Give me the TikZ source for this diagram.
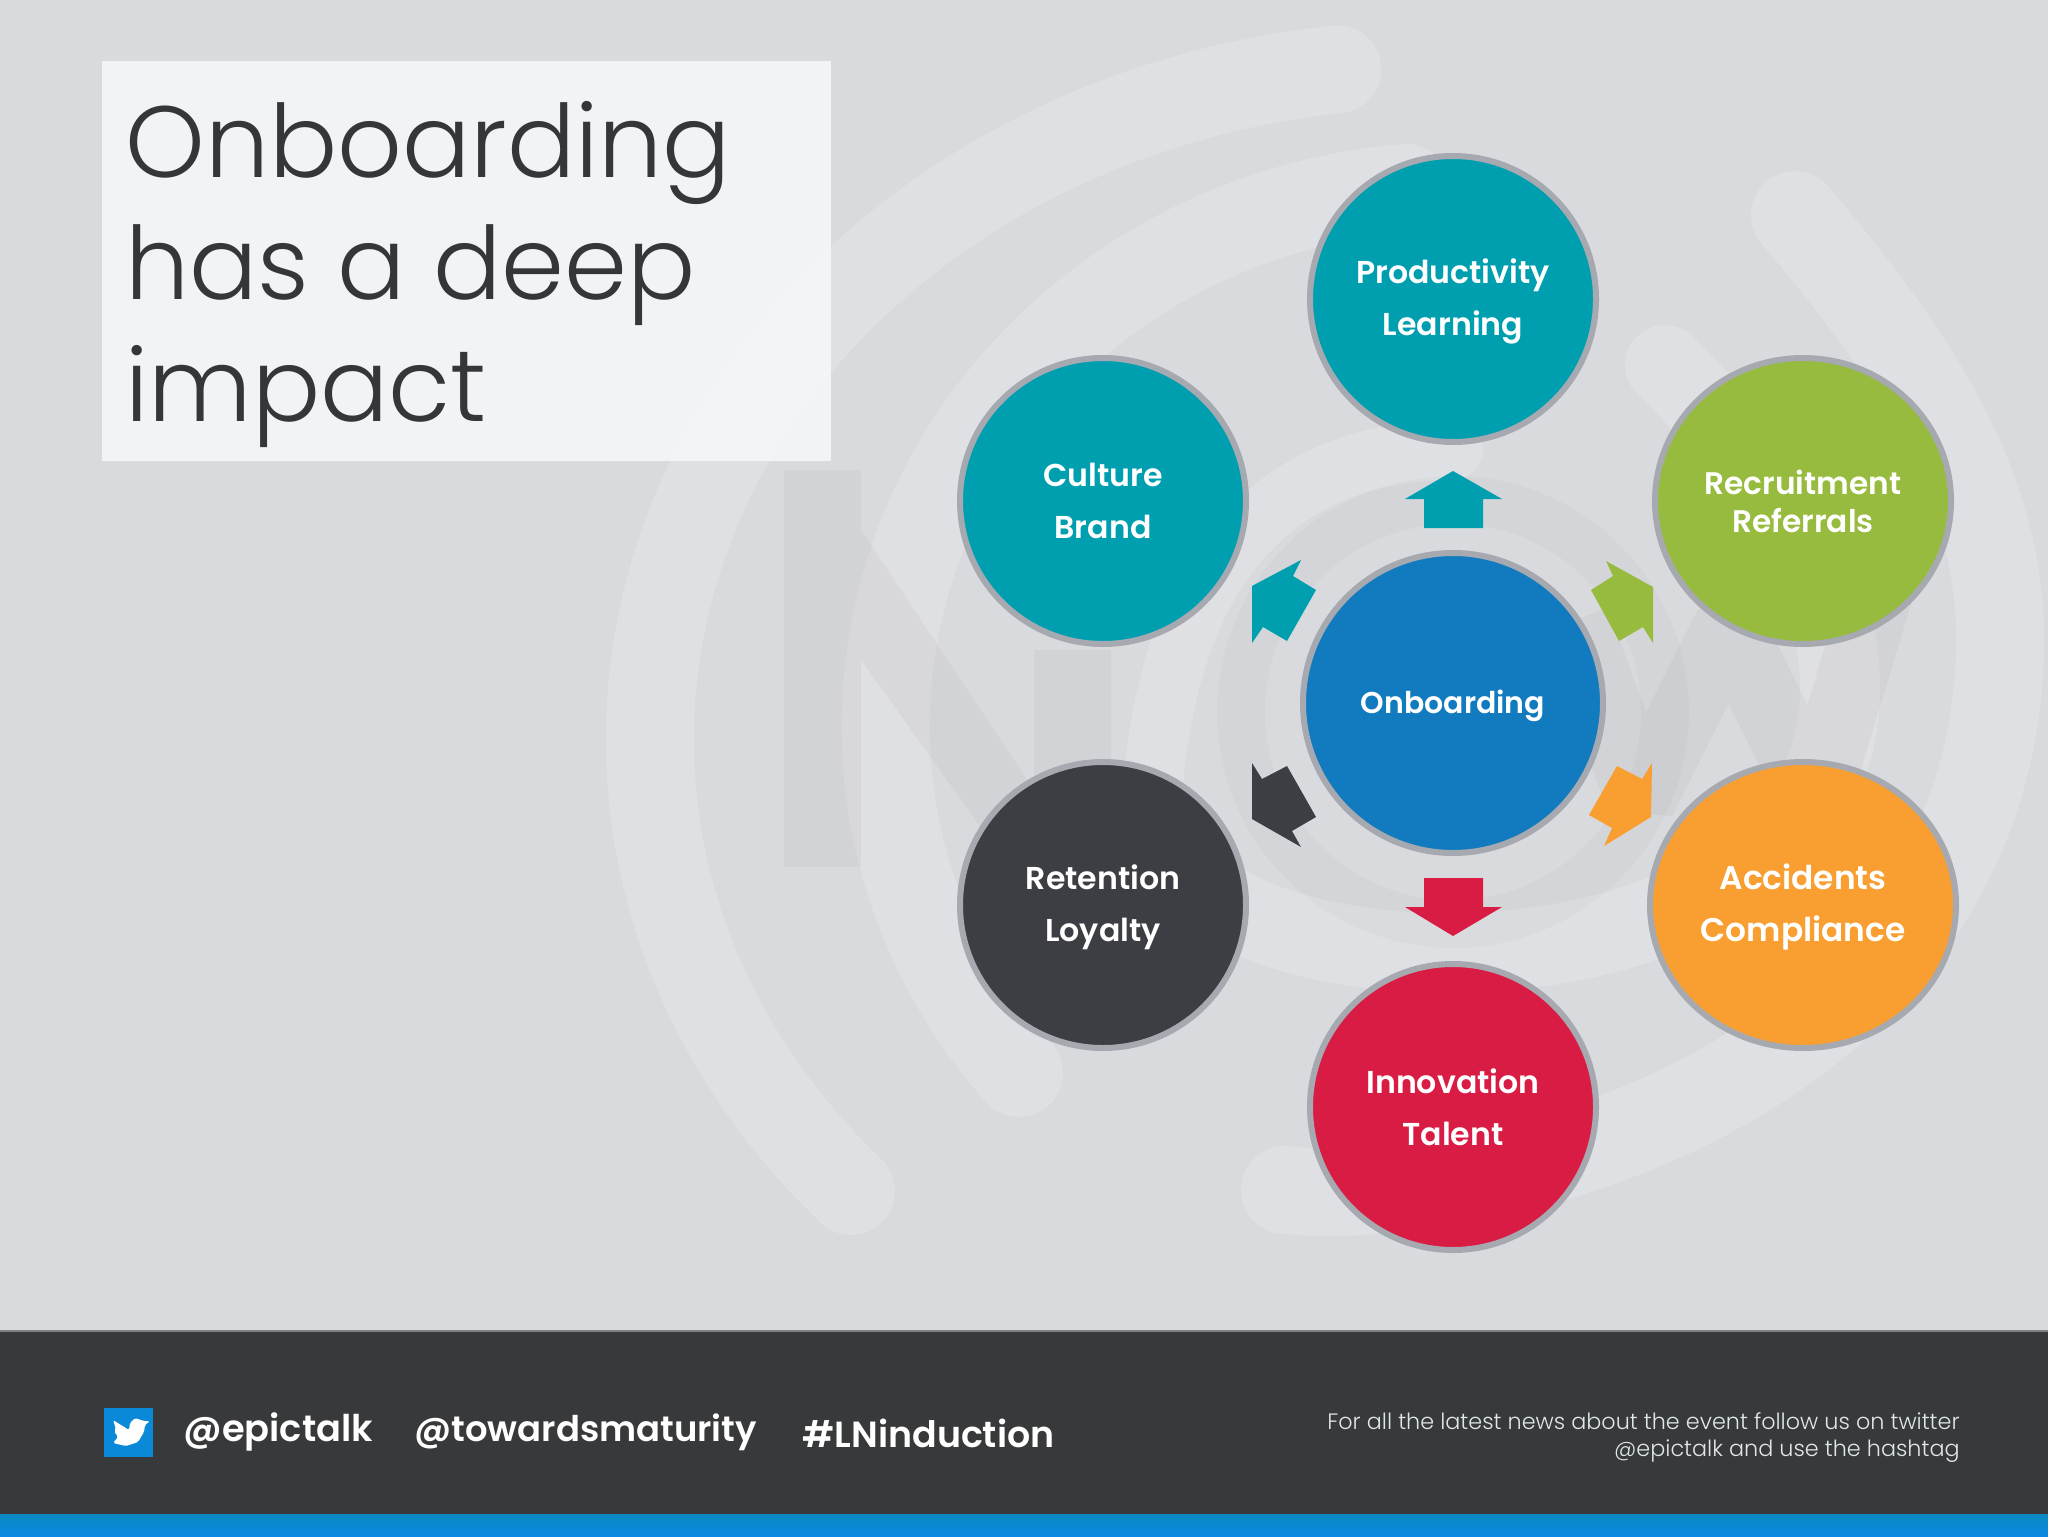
\documentclass[tikz,border=0pt]{standalone}
\usepackage{fontspec}
\usepackage{tikz}
\usetikzlibrary{positioning, shapes.geometric}

\newfontfamily\lightfont{Poppins}[UprightFont=* Light]
\newfontfamily\boldfont{Poppins}[UprightFont=* SemiBold]

\definecolor{paper}{HTML}{D9DADD}
\definecolor{ringlight}{HTML}{E3E4E8}
\definecolor{titlebox}{HTML}{F7F8FA}
\definecolor{titleink}{HTML}{353639}
\definecolor{footer}{HTML}{38393B}
\definecolor{footnote}{HTML}{DFE8E8}
\definecolor{barblue}{HTML}{0A89D8}
\definecolor{bartop}{HTML}{0C8AC2}
\definecolor{barlow}{HTML}{0888E2}
\definecolor{bubbleline}{HTML}{A7A9B0}
\definecolor{tealc}{HTML}{009FB0}
\definecolor{greenc}{HTML}{97BB3E}
\definecolor{orangec}{HTML}{F99F32}
\definecolor{darkc}{HTML}{3D3E43}
\definecolor{redc}{HTML}{D91C44}
\definecolor{bluec}{HTML}{127BBF}

\newcommand{\lifted}{\rule{0pt}{15pt}}

\tikzset{
    bubble/.style={ellipse, draw=bubbleline, line width=3pt, inner sep=0pt, text=white,
        align=center, font=\boldfont\fontsize{15.8}{26}\selectfont},
    ring/.style={draw=ringlight, line width=44pt, line cap=round, opacity=0.6},
    mark dark/.style={black, opacity=0.032},
    handle/.style={anchor=base west, text=white, inner sep=0pt},
}

\begin{document}
\begin{tikzpicture}[x=0.5pt, y=-0.5pt]
        \useasboundingbox (0,0) rectangle (2048,1536);
        \fill[paper] (0,0) rectangle (2048,1536);

        % rings behind the bubbles
        \draw[ring] (851,1191) arc[start angle=138, end angle=263, x radius=783, y radius=675];
        \draw[ring] (1019,1073) arc[start angle=140, end angle=265, x radius=570, y radius=540];
        \draw[ring] (1285,1190) .. controls (1500,1210) and (1990,1080) .. (2000,650) .. controls (2005,480) and (1900,340) .. (1795,215);
        \draw[ring, line width=40pt] (1190,880) .. controls (1330,1010) and (1850,980) .. (1840,680) .. controls (1835,540) and (1730,430) .. (1665,365);
        \draw[ring, line width=30pt] (1150,860) .. controls (1150,510) and (1330,450) .. (1453,450);

        % letters
        \fill[mark dark] (784,470) -- (861,470) -- (861,867) -- (784,867) -- cycle;
        \fill[mark dark] (861,530) -- (1034,790) -- (1034,650) -- (1111,650) -- (1111,910) -- (1040,910) -- (861,660) -- cycle;
        \draw[mark dark, line width=35pt, line join=bevel] (1575,620) -- (1641,800) -- (1729,625) -- (1815,800) -- (1900,520);
        \draw[mark dark, opacity=0.02, line width=24pt] (1453,712) circle (212);

        % title
        \fill[titlebox, fill opacity=0.85] (102,61) rectangle (831,461);
        \node[anchor=north west, inner sep=0pt, text=titleink, align=left, font=\lightfont\fontsize{50.6}{61}\selectfont] (title) at (125,101)
            {Onboarding\\has a deep\\impact};

        % footer
        \fill[footer] (0,1331) rectangle (2048,1514);
        \shade[top color=bartop, bottom color=barlow] (0,1514) rectangle (2048,1536);
        \draw[gray, line width=0.6pt] (0,1331) -- (2048,1331);

        % bird
        \fill[barblue] (104,1408) rectangle (153,1457);
        \fill[white, rounded corners=0.8pt] (150,1421) -- (144,1421) -- (135,1418) -- (130,1423) -- (129,1430) -- (113,1420) -- (116,1429) -- (114,1431) -- (118,1437) -- (113,1443) -- (126,1446) -- (138,1442) -- (144,1432) -- (145,1425) -- cycle;

        \node[handle, font=\boldfont\fontsize{18.4}{22}\selectfont] (epic) at (183,1441) {@epictalk};
        \node[handle, font=\boldfont\fontsize{17.7}{22}\selectfont] (towards) at (414,1441) {@towardsmaturity};
        \node[handle, font=\boldfont\fontsize{18.2}{22}\selectfont] (hash) at (802,1447) {\#LNinduction};
        \node[anchor=north east, inner sep=0pt, text=footnote, align=right, font=\lightfont\fontsize{11.15}{13.5}\selectfont] (note) at (1960,1412)
            {For all the latest news about the event follow us on twitter\\@epictalk and use the hashtag};

        % bubbles
        \node[bubble, fill=bluec, minimum width=150pt, minimum height=150pt, font=\boldfont\fontsize{15}{26}\selectfont] (onboard) at (1453,703) {\lifted Onboarding};
        \node[bubble, fill=tealc, minimum width=143pt, minimum height=143pt] (product) at (1453,299) {\lifted Productivity\\Learning};
        \node[bubble, fill=greenc, minimum width=148pt, minimum height=143pt, font=\boldfont\fontsize{15.6}{19}\selectfont] (recruit) at (1803,501) {Recruitment\\Referrals};
        \node[bubble, fill=orangec, minimum width=153pt, minimum height=143pt, font=\boldfont\fontsize{16.4}{26}\selectfont] (accident) at (1803,905) {\lifted Accidents\\Compliance};
        \node[bubble, fill=redc, minimum width=143pt, minimum height=143pt] (innovate) at (1453,1107) {Innovation\\Talent};
        \node[bubble, fill=darkc, minimum width=143pt, minimum height=143pt] (retain) at (1103,905) {\lifted Retention\\Loyalty};
        \node[bubble, fill=tealc, minimum width=143pt, minimum height=143pt] (culture) at (1103,501) {Culture\\Brand};

        % arrows
        \fill[tealc] (1453,471) -- (1502,499) -- (1483,499) -- (1483,528) -- (1424,528) -- (1424,499) -- (1405,499) -- cycle;
        \fill[redc] (1453,936) -- (1502,907) -- (1483,907) -- (1483,878) -- (1424,878) -- (1424,907) -- (1405,907) -- cycle;
        \fill[tealc] (1252,586) -- (1301,560) -- (1293,576) -- (1316,590) -- (1287,641) -- (1263,627) -- (1252,643) -- cycle;
        \fill[greenc] (1606,561) -- (1653,587) -- (1653,643) -- (1643,627) -- (1619,641) -- (1591,590) -- (1613,576) -- cycle;
        \fill[orangec] (1652,763) -- (1651,817) -- (1604,846) -- (1612,828) -- (1589,815) -- (1617,766) -- (1642,779) -- cycle;
        \fill[darkc] (1252,763) -- (1262,779) -- (1287,766) -- (1316,817) -- (1292,831) -- (1301,847) -- (1252,819) -- cycle;
    \end{tikzpicture}
\end{document}
